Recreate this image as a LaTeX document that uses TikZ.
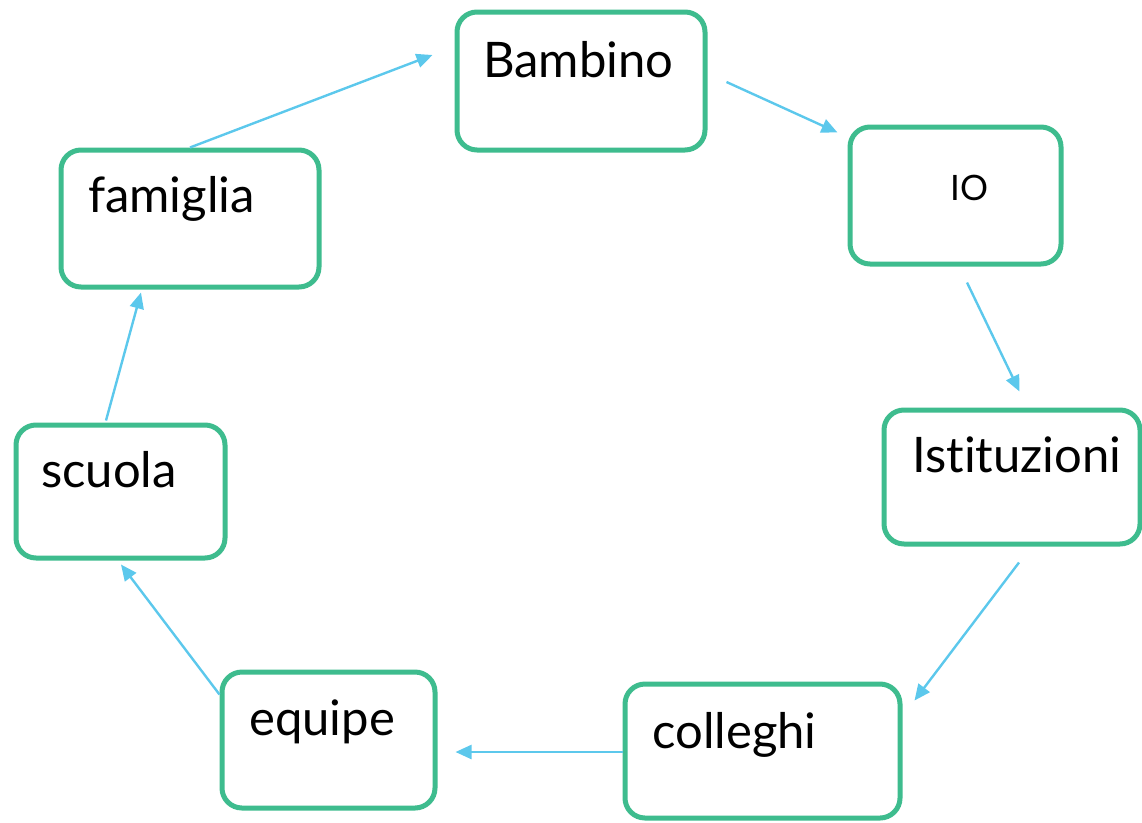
\documentclass[tikz,border=0pt]{standalone}
\usepackage{fontspec}
\setmainfont[Ligatures={NoCommon,NoContextual}]{Lato}
\usetikzlibrary{arrows.meta}
\definecolor{boxgreen}{HTML}{3EBC8E}
\definecolor{linkblue}{HTML}{5CC8EC}
\begin{document}
\begin{tikzpicture}[x=1pt,y=-1pt,
  box/.style={draw=boxgreen, line width=5pt, rounded corners=20pt,
    rectangle, inner sep=0pt, fill=white},
  lbl/.style={anchor=base west, inner sep=0pt, text=black,
    font=\fontsize{49}{58}\selectfont},
  small/.style={lbl, font=\fontsize{35}{42}\selectfont},
  link/.style={draw=linkblue, line width=2.4pt,
    -{Triangle[length=16pt,width=14pt]}}]
\useasboundingbox (0,0) rectangle (1142,822);

% boxes
\node[box, minimum width=248pt, minimum height=138pt] (bam) at (581,81) {};
\node[box, minimum width=258pt, minimum height=137pt] (fam) at (190,218.5) {};
\node[box, minimum width=211pt, minimum height=137pt] (io)  at (955.5,195.5) {};
\node[box, minimum width=256pt, minimum height=134pt] (ist) at (1012,477) {};
\node[box, minimum width=275pt, minimum height=134pt] (col) at (762.5,751) {};
\node[box, minimum width=213pt, minimum height=136pt] (equ) at (328.5,740) {};
\node[box, minimum width=209pt, minimum height=133pt] (sch) at (120.5,491.5) {};

% labels
\node[lbl]   (bamT) at (483,77)  {Bambino};
\node[lbl]   (famT) at (88,212)  {famiglia};
\node[small] (ioT)  at (950,200) {IO};
\node[lbl]   (istT) at (912,472) {Istituzioni};
\node[lbl]   (colT) at (652,748) {colleghi};
\node[lbl]   (equT) at (249,735) {equipe};
\node[lbl]   (schT) at (41,487)  {scuola};

% cycle of links
\draw[link] (fam.north) -- ([shift={(-22,-26)}]bam.west);
\draw[link] ([shift={(19,1)}]bam.east) -- ([shift={(-10,8)}]io.north west);
\draw[link] ([shift={(11.5,16)}]io.south) -- ([shift={(7.5,-16)}]ist.north);
\draw[link] ([shift={(7,16)}]ist.south) -- ([shift={(12,19)}]col.north east);
\draw[link] ([shift={(0,1)}]col.west) -- ([shift={(18,12)}]equ.east);
\draw[link] ([shift={(0,25)}]equ.north west) -- ([shift={(0.5,4)}]sch.south);
\draw[link] ([shift={(-14.5,-2)}]sch.north) -- ([shift={(-49,3)}]fam.south);
\end{tikzpicture}
\end{document}
